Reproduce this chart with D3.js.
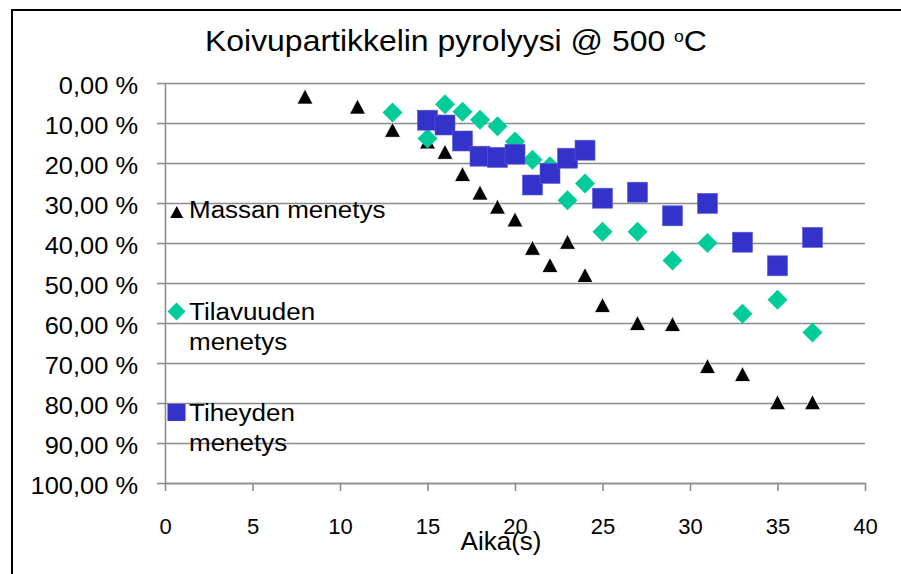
<!DOCTYPE html>
<html>
<head>
<meta charset="utf-8">
<script src="https://cdn.jsdelivr.net/npm/d3@7/dist/d3.min.js"></script>
<style>
  body { margin: 0; background: #fff; }
  svg { display: block; font-family: "Liberation Sans", Arial, sans-serif; }
</style>
</head>
<body>
<script>
// Pyrolysis of a birch particle at 500 °C: mass, volume and density loss over time
const massTime = [8, 11, 13, 15, 16, 17, 18, 19, 20, 21, 22, 23, 24, 25, 27, 29, 31, 33, 35, 37];
const massLoss = [3.4, 5.9, 11.7, 14.6, 17.2, 22.75, 27.4, 30.9, 34.1, 41.2, 45.5, 39.7, 48, 55.5, 60, 60.25, 70.75, 72.75, 79.8, 79.8];

const volTime = [13, 15, 16, 17, 18, 19, 20, 21, 22, 23, 24, 25, 27, 29, 31, 33, 35, 37];
const volLoss = [7.4, 13.9, 5.3, 7.2, 9.2, 10.8, 14.6, 19.2, 20.8, 29.3, 25.1, 37.2, 37.2, 44.4, 40, 57.7, 54.2, 62.4];

const densTime = [15, 16, 17, 18, 19, 20, 21, 22, 23, 24, 25, 27, 29, 31, 33, 35, 37];
const densLoss = [9.3, 10.5, 14.5, 18.3, 18.6, 17.8, 25.5, 22.6, 18.8, 16.8, 28.8, 27.3, 33.2, 30.1, 39.8, 45.7, 38.6];

const xTicks = [0, 5, 10, 15, 20, 25, 30, 35, 40];
const yTicks = [0, 10, 20, 30, 40, 50, 60, 70, 80, 90, 100];

const titleMain = "Koivupartikkelin pyrolyysi @ 500 ";
const titleDeg = "o";
const titleUnit = "C";
const xTitle = "Aika(s)";
const legendLines = [["Massan menetys"], ["Tilavuuden", "menetys"], ["Tiheyden", "menetys"]];

const colMass = "#000000", colVol = "#00CC99", colDens = "#3333CC";

const W = 901, H = 574;
const svg = d3.select("body").append("svg").attr("width", W).attr("height", H);

// outer frame
svg.append("rect").attr("x", 12).attr("y", 10).attr("width", 900).attr("height", 600)
  .attr("fill", "none").attr("stroke", "#000").attr("stroke-width", 2);

const x = d3.scaleLinear().domain([0, 40]).range([165, 865]);
const y = d3.scaleLinear().domain([0, 100]).range([83, 483]); // reversed: 0 % at the top

const fi = d3.formatLocale({ decimal: ",", thousands: "\u00a0", grouping: [3], currency: ["", " €"] });
const fmtY = v => fi.format(".2f")(v) + " %";

// horizontal stretch helper around the text's anchor x
function stretch(sel, k) {
  sel.each(function () {
    const ax = +d3.select(this).attr("x") || 0;
    d3.select(this).attr("transform", `translate(${ax},0) scale(${k},1) translate(${-ax},0)`);
  });
}

const gridCol = "#8c8c8c";

// gridlines
svg.append("g").attr("transform", "translate(165,0)")
  .call(d3.axisLeft(y).tickValues(yTicks).tickSize(-700).tickFormat(""))
  .call(g => g.select(".domain").remove())
  .call(g => g.selectAll("line").attr("stroke", gridCol).attr("stroke-width", 1.6));

// y axis
const gy = svg.append("g").attr("transform", "translate(165,0)")
  .call(d3.axisLeft(y).tickValues(yTicks).tickSizeInner(8).tickSizeOuter(0).tickPadding(19).tickFormat(fmtY));
gy.select(".domain").attr("stroke", gridCol).attr("stroke-width", 1.6);
gy.selectAll("line").attr("stroke", gridCol).attr("stroke-width", 1.6);
gy.selectAll("text").attr("font-size", 24).attr("fill", "#000").attr("dy", "0.42em")
  .attr("font-family", "Liberation Sans, Arial, sans-serif");
gy.selectAll("text").each(function () {
  const t = d3.select(this);
  const ax = +t.attr("x");
  t.attr("transform", `translate(${ax},0) scale(1.06,1) translate(${-ax},0)`);
});

// x axis
const gx = svg.append("g").attr("transform", "translate(0,483)")
  .call(d3.axisBottom(x).tickValues(xTicks).tickSizeInner(8).tickSizeOuter(0));
gx.select(".domain").attr("stroke", gridCol).attr("stroke-width", 1.6);
gx.selectAll("line").attr("stroke", gridCol).attr("stroke-width", 1.6);
gx.selectAll("text").attr("font-size", 22).attr("fill", "#000").attr("y", 51).attr("dy", 0)
  .attr("font-family", "Liberation Sans, Arial, sans-serif");

// x axis title
svg.append("text").attr("x", 501).attr("y", 550).attr("text-anchor", "middle")
  .attr("font-size", 26).attr("fill", "#000").text(xTitle);

// chart title
const title = svg.append("text").attr("x", 205).attr("y", 51).attr("font-size", 29).attr("fill", "#000")
  .attr("xml:space", "preserve");
title.append("tspan").text(titleMain);
title.append("tspan").attr("font-size", 16).attr("dy", -9).text(titleDeg);
title.append("tspan").attr("dy", 9).text(titleUnit);
{
  const w = title.node().getBBox().width;
  stretch(title, 502 / w);
}

// markers
const triPath = (hw, hh) => `M0,${-hh}L${hw},${hh}L${-hw},${hh}Z`;
const diaPath = r => `M0,${-r}L${r},0L0,${r}L${-r},0Z`;

svg.append("g").selectAll("path").data(d3.zip(massTime, massLoss)).join("path")
  .attr("transform", d => `translate(${x(d[0])},${y(d[1])})`)
  .attr("d", triPath(8, 7.5)).attr("fill", colMass).attr("stroke", "#fff").attr("stroke-width", 0.8);

svg.append("g").selectAll("path").data(d3.zip(volTime, volLoss)).join("path")
  .attr("transform", d => `translate(${x(d[0])},${y(d[1])})`)
  .attr("d", diaPath(10)).attr("fill", colVol);

svg.append("g").selectAll("rect").data(d3.zip(densTime, densLoss)).join("rect")
  .attr("x", d => x(d[0]) - 10).attr("y", d => y(d[1]) - 10)
  .attr("width", 20).attr("height", 20).attr("fill", colDens)
  .attr("stroke", "#5c5cd6").attr("stroke-width", 0.6);

// legend, drawn inside the plot area
const leg = svg.append("g");
leg.append("path").attr("transform", "translate(176.7,212)").attr("d", triPath(6.5, 6)).attr("fill", colMass);
leg.append("path").attr("transform", "translate(176.5,311.5)").attr("d", diaPath(9)).attr("fill", colVol);
leg.append("rect").attr("x", 167.5).attr("y", 404).attr("width", 18).attr("height", 17).attr("fill", colDens);

const legBase = [[218], [320, 350], [421.5, 451.5]];
legendLines.forEach((lines, i) => {
  lines.forEach((s, j) => {
    leg.append("text").attr("x", 189).attr("y", legBase[i][j]).attr("font-size", 23)
      .attr("fill", "#000").text(s).call(stretch, 1.13);
  });
});
</script>
</body>
</html>
